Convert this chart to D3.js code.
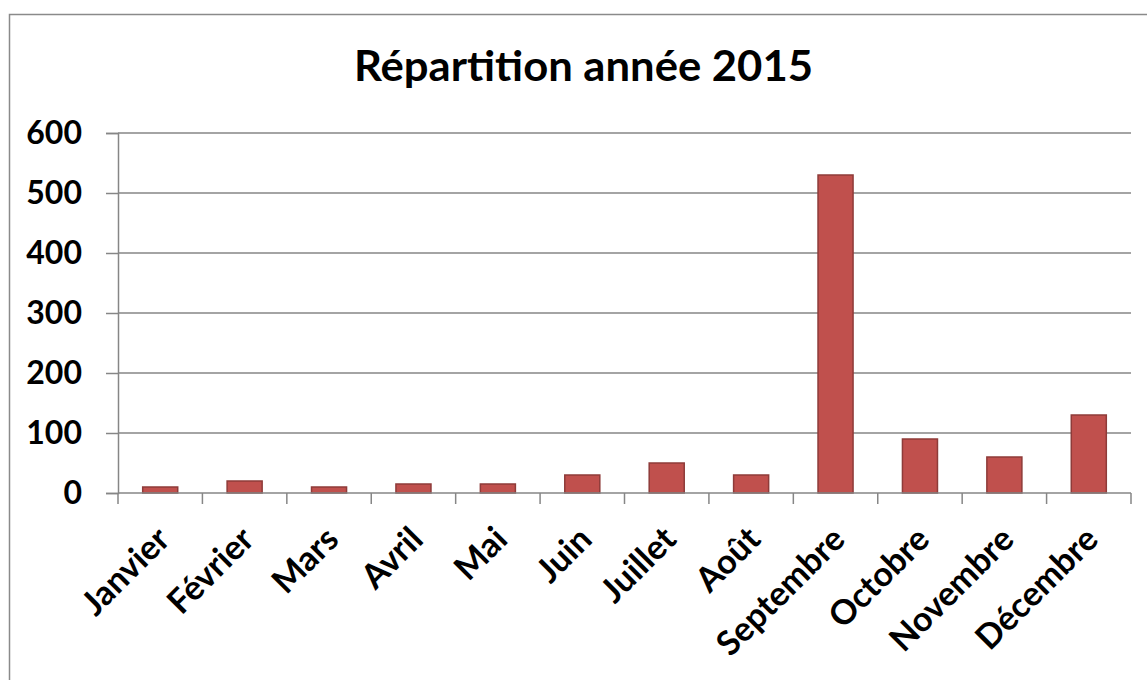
<!DOCTYPE html>
<html>
<head>
<meta charset="utf-8">
<script src="https://cdn.jsdelivr.net/npm/d3@7"></script>
<style>
  html, body { margin: 0; padding: 0; background: #fff; }
  svg { display: block; }
  text { font-family: Lato, "Open Sans", sans-serif; font-weight: 700; fill: #000; }
</style>
</head>
<body>
<svg id="chart" width="1147" height="680"></svg>
<script>
const title = "Répartition année 2015";
const months = ["Janvier", "Février", "Mars", "Avril", "Mai", "Juin", "Juillet", "Août", "Septembre", "Octobre", "Novembre", "Décembre"];
const values = [10, 20, 10, 15, 15, 30, 50, 30, 530, 90, 60, 130];
const yTicks = [0, 100, 200, 300, 400, 500, 600];

const svg = d3.select("#chart");
const plotLeft = 118, plotRight = 1131, plotTop = 133, plotBottom = 493;

// outer chart border
svg.append("rect")
  .attr("x", 9.5).attr("y", 14.5)
  .attr("width", 1160).attr("height", 700)
  .attr("fill", "none").attr("stroke", "#8a8a8a").attr("stroke-width", 1.5);

svg.append("text")
  .attr("x", 583.5).attr("y", 81)
  .attr("text-anchor", "middle")
  .attr("font-size", 42)
  .attr("textLength", 459)
  .attr("lengthAdjust", "spacingAndGlyphs")
  .text(title);

const x = d3.scaleBand().domain(months).range([plotLeft, plotRight]).paddingInner(0.585).paddingOuter(0.2925);
const y = d3.scaleLinear().domain([0, 600]).range([plotBottom, plotTop]);

// gridlines
svg.append("g").selectAll("line").data(yTicks.filter(d => d > 0)).join("line")
  .attr("x1", plotLeft).attr("x2", plotRight)
  .attr("y1", d => y(d)).attr("y2", d => y(d))
  .attr("stroke", "#868686").attr("stroke-width", 1.5);

// y axis
const yAxis = d3.axisLeft(y).tickValues(yTicks).tickSize(12).tickPadding(24).tickFormat(d3.format("d"));
const gy = svg.append("g").attr("transform", `translate(${plotLeft},0)`).call(yAxis);
gy.select(".domain").attr("stroke", "#868686").attr("stroke-width", 1.5);
gy.selectAll(".tick line").attr("stroke", "#868686").attr("stroke-width", 1.5);
gy.selectAll(".tick text").attr("font-size", 32).attr("font-family", "Lato, sans-serif").attr("font-weight", 700).attr("fill", "#000");

// bars
svg.append("g").selectAll("rect").data(values).join("rect")
  .attr("x", (d, i) => x(months[i]))
  .attr("y", d => y(d))
  .attr("width", x.bandwidth())
  .attr("height", d => y(0) - y(d))
  .attr("fill", "#C0504D")
  .attr("stroke", "#8E3B39")
  .attr("stroke-width", 1.5);

// x axis line and ticks at band boundaries
const bounds = d3.range(months.length + 1).map(i => plotLeft + i * (plotRight - plotLeft) / months.length);
svg.append("line").attr("x1", plotLeft).attr("x2", plotRight).attr("y1", plotBottom).attr("y2", plotBottom)
  .attr("stroke", "#868686").attr("stroke-width", 1.5);
svg.append("g").selectAll("line").data(bounds).join("line")
  .attr("x1", d => d).attr("x2", d => d)
  .attr("y1", plotBottom).attr("y2", plotBottom + 11)
  .attr("stroke", "#868686").attr("stroke-width", 1.5);

// rotated category labels
svg.append("g").selectAll("text").data(months).join("text")
  .attr("transform", d => `translate(${x(d) + x.bandwidth() / 2 + 3},${533}) rotate(-45)`)
  .attr("text-anchor", "end")
  .attr("dy", "0.35em")
  .attr("font-size", 34)
  .text(d => d);
</script>
</body>
</html>
